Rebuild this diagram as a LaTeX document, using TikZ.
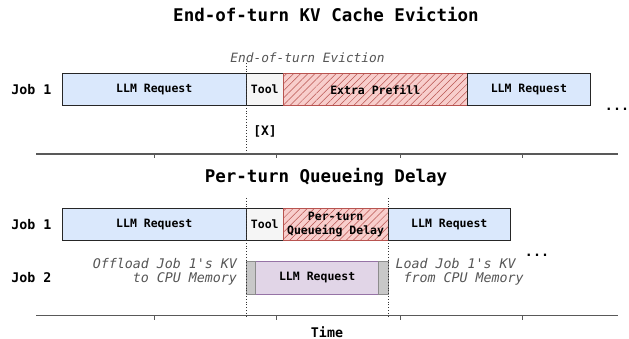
\documentclass[tikz,border=0pt]{standalone}
\usepackage{fontspec}
\setmainfont{DejaVu Sans Mono}[Ligatures=TeXOff]
\usetikzlibrary{patterns.meta}
\definecolor{reqblue}{HTML}{DAE8FC}
\definecolor{toolgray}{HTML}{F5F5F5}
\definecolor{stallfill}{HTML}{F8CECC}
\definecolor{stallred}{HTML}{B85450}
\definecolor{otherpurple}{HTML}{E1D5E7}
\definecolor{otheredge}{HTML}{9673A6}
\definecolor{kvgray}{HTML}{C8C8C8}
\definecolor{notegray}{HTML}{555555}
\begin{document}
\begin{tikzpicture}[x=1pt,y=-1pt,
    seg/.style={draw, rectangle, inner sep=0pt, minimum height=32.5pt, line width=0.9pt,
                font=\fontsize{11.5}{14.3}\selectfont\bfseries},
    req/.style={seg, fill=reqblue, draw=black!85},
    tool/.style={seg, fill=toolgray, draw=black!85},
    stall/.style={seg, draw=stallred, align=center, preaction={fill=stallfill},
                  pattern={Lines[angle=45,distance=5pt,line width=0.5pt]}, pattern color=stallred},
    other/.style={seg, fill=otherpurple, draw=otheredge},
    kvmove/.style={seg, fill=kvgray, draw=black!45},
    job/.style={anchor=east, font=\fontsize{13.3}{16}\selectfont\bfseries},
    heading/.style={font=\fontsize{17.5}{21}\selectfont\bfseries},
    note/.style={text=notegray, font=\fontsize{12.8}{14.3}\selectfont\itshape},
    marker/.style={dotted, line width=0.8pt, black!80},
    axis/.style={line width=1.3pt, black!65},
    tick/.style={line width=0.8pt, black!65}]
\useasboundingbox (0,0) rectangle (629,339);

% top panel
\node[heading] (title1) at (326,15) {End-of-turn KV Cache Eviction};
\node[job] (job1a) at (55,89.7) {Job 1};
\node[req, minimum width=184.1pt] (a1) at (154.25,89.7) {LLM Request};
\node[tool, minimum width=36.9pt] (a2) at (264.75,89.7) {Tool};
\node[stall, minimum width=184.1pt] (a3) at (375.25,89.7) {Extra Prefill};
\node[req, minimum width=123.1pt] (a4) at (528.85,89.7) {LLM Request};
\node[font=\fontsize{13.3}{16}\selectfont\bfseries, anchor=base] (moreA) at (617,110.5) {...};
\node[note] (evict) at (307.5,58) {End-of-turn Eviction};
\node[font=\fontsize{13}{16}\selectfont\bfseries] (mark) at (265,131) {[X]};
\draw[marker] (246.3,63) -- (246.3,154);
\draw[axis] (36,154) -- (618,154);
\foreach \t in {154.4,276.8,399.9,522.7}
  \draw[tick] (\t,154) -- (\t,158.5);

% bottom panel
\node[heading] (title2) at (326,177) {Per-turn Queueing Delay};
\node[job] (job1b) at (55,224.5) {Job 1};
\node[req, minimum width=184.1pt] (b1) at (154.25,224.5) {LLM Request};
\node[tool, minimum width=36.9pt] (b2) at (264.75,224.5) {Tool};
\node[stall, minimum width=104.8pt] (b3) at (335.6,224.5) {Per-turn\\Queueing Delay};
\node[req, minimum width=122.6pt] (b4) at (449.3,224.5) {LLM Request};
\node[job] (job2) at (55,278) {Job 2};
\node[other, minimum width=132.4pt] (c2) at (317.15,278) {LLM Request};
\node[kvmove, minimum width=9.2pt] (c1) at (250.9,278) {};
\node[kvmove, minimum width=9.3pt] (c3) at (383.35,278) {};
\node[note, font=\fontsize{13.3}{14.3}\selectfont\itshape, align=right, anchor=east] (offload) at (240.5,272) {Offload Job 1's KV\\to CPU Memory};
\node[note, font=\fontsize{13.3}{14.3}\selectfont\itshape, align=left, anchor=west] (reload) at (392,272) {Load Job 1's KV\\~from CPU Memory};
\node[font=\fontsize{13.3}{16}\selectfont\bfseries, anchor=base] (moreB) at (537,256.5) {...};
\draw[marker] (246.3,198) -- (246.3,315.7);
\draw[marker] (388,198) -- (388,315.7);
\draw[axis] (36,315.7) -- (618,315.7);
\foreach \t in {154.4,276.8,399.9,522.7}
  \draw[tick] (\t,315.7) -- (\t,320.2);
\node[font=\fontsize{13.3}{16}\selectfont\bfseries, inner sep=0pt] (time) at (327,332) {Time};
\end{tikzpicture}
\end{document}
